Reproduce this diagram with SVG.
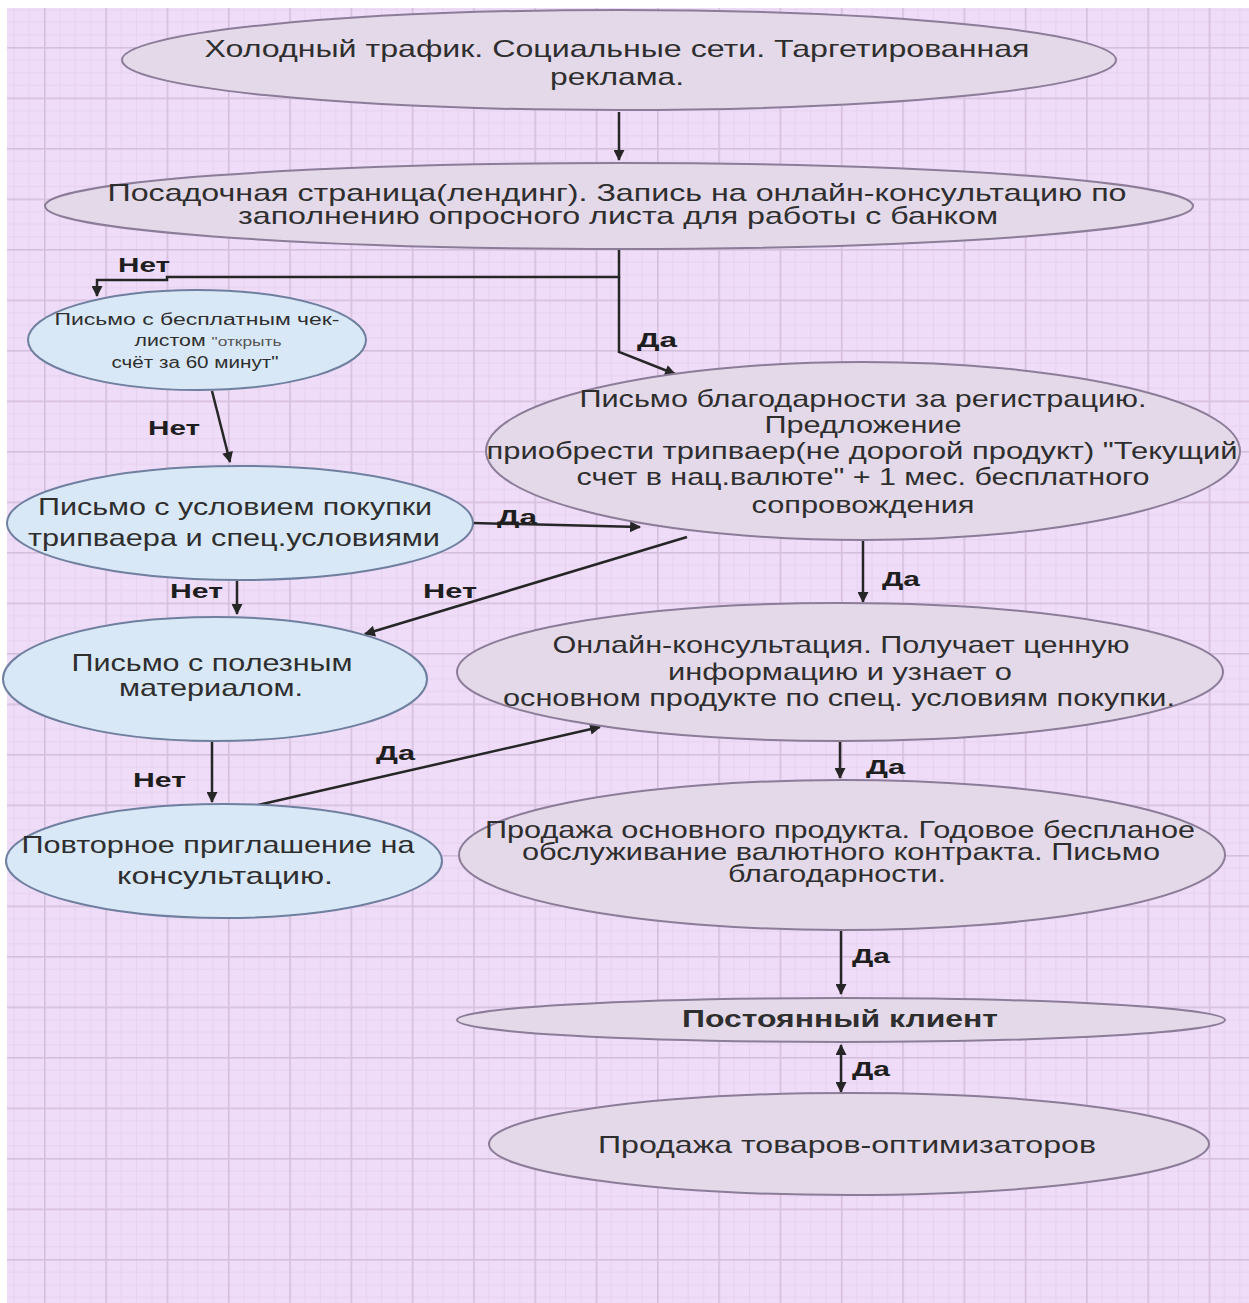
<svg xmlns="http://www.w3.org/2000/svg" width="1249" height="1303" viewBox="0 0 1249 1303">
<style>
.bg{fill:#efdcf8}
.g{fill:#e4d9e9;stroke:#8b7c98;stroke-width:2}
.b{fill:#d9e8f6;stroke:#6f7f9e;stroke-width:2}
.t{font-family:"Liberation Sans",Arial,sans-serif;font-size:24px;fill:#2e2e2e;text-anchor:middle}
.s{font-family:"Liberation Sans",Arial,sans-serif;font-size:16px;fill:#2e2e2e;text-anchor:middle}
.lb{font-family:"Liberation Sans",Arial,sans-serif;font-size:20px;font-weight:bold;fill:#1e1e1e}
.c{fill:none;stroke:#262626;stroke-width:2.5}
</style>
<defs>
<pattern id="grid" patternUnits="userSpaceOnUse" x="44" y="47" width="61.3" height="50.5">
<rect x="15.3" y="0" width="1" height="50.5" fill="#e6d2ee"/>
<rect x="30.6" y="0" width="1" height="50.5" fill="#e6d2ee"/>
<rect x="46" y="0" width="1" height="50.5" fill="#e6d2ee"/>
<rect x="0" y="12.6" width="61.3" height="1" fill="#e6d2ee"/>
<rect x="0" y="25.2" width="61.3" height="1" fill="#e6d2ee"/>
<rect x="0" y="37.9" width="61.3" height="1" fill="#e6d2ee"/>
<rect x="0" y="0" width="1.6" height="50.5" fill="#d5bfdc"/>
<rect x="0" y="0" width="61.3" height="1.6" fill="#d5bfdc"/>
</pattern>
<marker id="ah" viewBox="0 0 10 10" markerUnits="userSpaceOnUse" markerWidth="13" markerHeight="11" refX="9" refY="5" orient="auto-start-reverse">
<path d="M0,0 L10,5 L0,10 z" fill="#262626"/>
</marker>
</defs>
<rect x="0" y="0" width="1249" height="1303" fill="#ffffff"/>
<rect class="bg" x="7" y="8" width="1242" height="1295"/>
<rect x="7" y="8" width="1242" height="1295" fill="url(#grid)"/>

<g id="connectors">
<line class="c" x1="619" y1="112" x2="619" y2="160" marker-end="url(#ah)"/>
<polyline class="c" points="619,250 619,277 167,277 167,280 97,280 97,296" marker-end="url(#ah)"/>
<polyline class="c" points="619,277 619,352 675,374" marker-end="url(#ah)"/>
<line class="c" x1="212" y1="391" x2="230" y2="462" marker-end="url(#ah)"/>
<line class="c" x1="473" y1="523" x2="640" y2="527" marker-end="url(#ah)"/>
<line class="c" x1="237" y1="580" x2="237" y2="614" marker-end="url(#ah)"/>
<line class="c" x1="687" y1="537" x2="365" y2="634" marker-end="url(#ah)"/>
<line class="c" x1="212" y1="741" x2="212" y2="802" marker-end="url(#ah)"/>
<line class="c" x1="258" y1="805" x2="600" y2="727" marker-end="url(#ah)"/>
<line class="c" x1="863" y1="540" x2="863" y2="602" marker-end="url(#ah)"/>
<line class="c" x1="840" y1="742" x2="840" y2="778" marker-end="url(#ah)"/>
<line class="c" x1="841" y1="930" x2="841" y2="994" marker-end="url(#ah)"/>
<line class="c" x1="841" y1="1045" x2="841" y2="1092" marker-start="url(#ah)" marker-end="url(#ah)"/>
<text class="lb" x="118" y="272" textLength="52" lengthAdjust="spacingAndGlyphs">Нет</text>
<text class="lb" x="637" y="347" textLength="40" lengthAdjust="spacingAndGlyphs">Да</text>
<text class="lb" x="148" y="435" textLength="52" lengthAdjust="spacingAndGlyphs">Нет</text>
<text class="lb" x="497" y="524" textLength="40" lengthAdjust="spacingAndGlyphs">Да</text>
<text class="lb" x="170" y="598" textLength="53" lengthAdjust="spacingAndGlyphs">Нет</text>
<text class="lb" x="423" y="598" textLength="54" lengthAdjust="spacingAndGlyphs">Нет</text>
<text class="lb" x="133" y="787" textLength="53" lengthAdjust="spacingAndGlyphs">Нет</text>
<text class="lb" x="376" y="760" textLength="39" lengthAdjust="spacingAndGlyphs">Да</text>
<text class="lb" x="882" y="586" textLength="38" lengthAdjust="spacingAndGlyphs">Да</text>
<text class="lb" x="866" y="774" textLength="39" lengthAdjust="spacingAndGlyphs">Да</text>
<text class="lb" x="852" y="963" textLength="38" lengthAdjust="spacingAndGlyphs">Да</text>
<text class="lb" x="852" y="1076" textLength="38" lengthAdjust="spacingAndGlyphs">Да</text>
</g>

<g id="n1">
<ellipse class="g" cx="619" cy="60" rx="497" ry="50"/>
<text class="t" x="617" y="57" font-size="25" textLength="825" lengthAdjust="spacingAndGlyphs">Холодный трафик. Социальные сети. Таргетированная</text>
<text class="t" x="617" y="85" font-size="25" textLength="134" lengthAdjust="spacingAndGlyphs">реклама.</text>
</g>
<g id="n2">
<ellipse class="g" cx="619" cy="206" rx="574" ry="43"/>
<text class="t" x="617" y="201" font-size="21" textLength="1019" lengthAdjust="spacingAndGlyphs">Посадочная страница(лендинг). Запись на онлайн-консультацию по</text>
<text class="t" x="618" y="224" font-size="21" textLength="760" lengthAdjust="spacingAndGlyphs">заполнению опросного листа для работы с банком</text>
</g>
<g id="n3">
<ellipse class="b" cx="197" cy="340" rx="169" ry="50"/>
<text class="s" x="197" y="325" textLength="285" lengthAdjust="spacingAndGlyphs">Письмо с бесплатным чек-</text>
<text class="s" x="208" y="346" textLength="147" lengthAdjust="spacingAndGlyphs">листом <tspan font-size="13" fill="#555">"открыть</tspan></text>
<text class="s" x="195" y="368" font-size="13" fill="#555" textLength="167" lengthAdjust="spacingAndGlyphs">счёт за 60 минут"</text>
</g>
<g id="n4">
<ellipse class="g" cx="863" cy="451" rx="377" ry="89"/>
<text class="t" x="863" y="407" textLength="567" lengthAdjust="spacingAndGlyphs">Письмо благодарности за регистрацию.</text>
<text class="t" x="863" y="433" textLength="197" lengthAdjust="spacingAndGlyphs">Предложение</text>
<text class="t" x="862" y="459" textLength="751" lengthAdjust="spacingAndGlyphs">приобрести трипваер(не дорогой продукт) "Текущий</text>
<text class="t" x="863" y="485" textLength="573" lengthAdjust="spacingAndGlyphs">счет в нац.валюте" + 1 мес. бесплатного</text>
<text class="t" x="863" y="513" textLength="223" lengthAdjust="spacingAndGlyphs">сопровождения</text>
</g>
<g id="n5">
<ellipse class="b" cx="240" cy="523" rx="233" ry="57"/>
<text class="t" x="235" y="515" textLength="394" lengthAdjust="spacingAndGlyphs">Письмо с условием покупки</text>
<text class="t" x="234" y="546" textLength="412" lengthAdjust="spacingAndGlyphs">трипваера и спец.условиями</text>
</g>
<g id="n6">
<ellipse class="b" cx="215" cy="679" rx="212" ry="62"/>
<text class="t" x="212" y="671" font-size="22" textLength="281" lengthAdjust="spacingAndGlyphs">Письмо с полезным</text>
<text class="t" x="211" y="696" font-size="22" textLength="184" lengthAdjust="spacingAndGlyphs">материалом.</text>
</g>
<g id="n7">
<ellipse class="g" cx="840" cy="672" rx="383" ry="69"/>
<text class="t" x="841" y="653" textLength="577" lengthAdjust="spacingAndGlyphs">Онлайн-консультация. Получает ценную</text>
<text class="t" x="840" y="680" textLength="344" lengthAdjust="spacingAndGlyphs">информацию и узнает о</text>
<text class="t" x="839" y="706" textLength="672" lengthAdjust="spacingAndGlyphs">основном продукте по спец. условиям покупки.</text>
</g>
<g id="n8">
<ellipse class="b" cx="224" cy="861" rx="218" ry="57"/>
<text class="t" x="218" y="853" textLength="393" lengthAdjust="spacingAndGlyphs">Повторное приглашение на</text>
<text class="t" x="225" y="884" textLength="216" lengthAdjust="spacingAndGlyphs">консультацию.</text>
</g>
<g id="n9">
<ellipse class="g" cx="842" cy="855" rx="383" ry="75"/>
<text class="t" x="840" y="838" font-size="19" textLength="710" lengthAdjust="spacingAndGlyphs">Продажа основного продукта. Годовое беспланое</text>
<text class="t" x="841" y="860" font-size="19" textLength="638" lengthAdjust="spacingAndGlyphs">обслуживание валютного контракта. Письмо</text>
<text class="t" x="837" y="882" font-size="19" textLength="218" lengthAdjust="spacingAndGlyphs">благодарности.</text>
</g>
<g id="n10">
<ellipse class="g" cx="841" cy="1020" rx="384" ry="22"/>
<text class="t" x="840" y="1027" font-weight="bold" textLength="316" lengthAdjust="spacingAndGlyphs">Постоянный клиент</text>
</g>
<g id="n11">
<ellipse class="g" cx="849" cy="1144" rx="360" ry="51"/>
<text class="t" x="847" y="1153" textLength="498" lengthAdjust="spacingAndGlyphs">Продажа товаров-оптимизаторов</text>
</g>
</svg>
